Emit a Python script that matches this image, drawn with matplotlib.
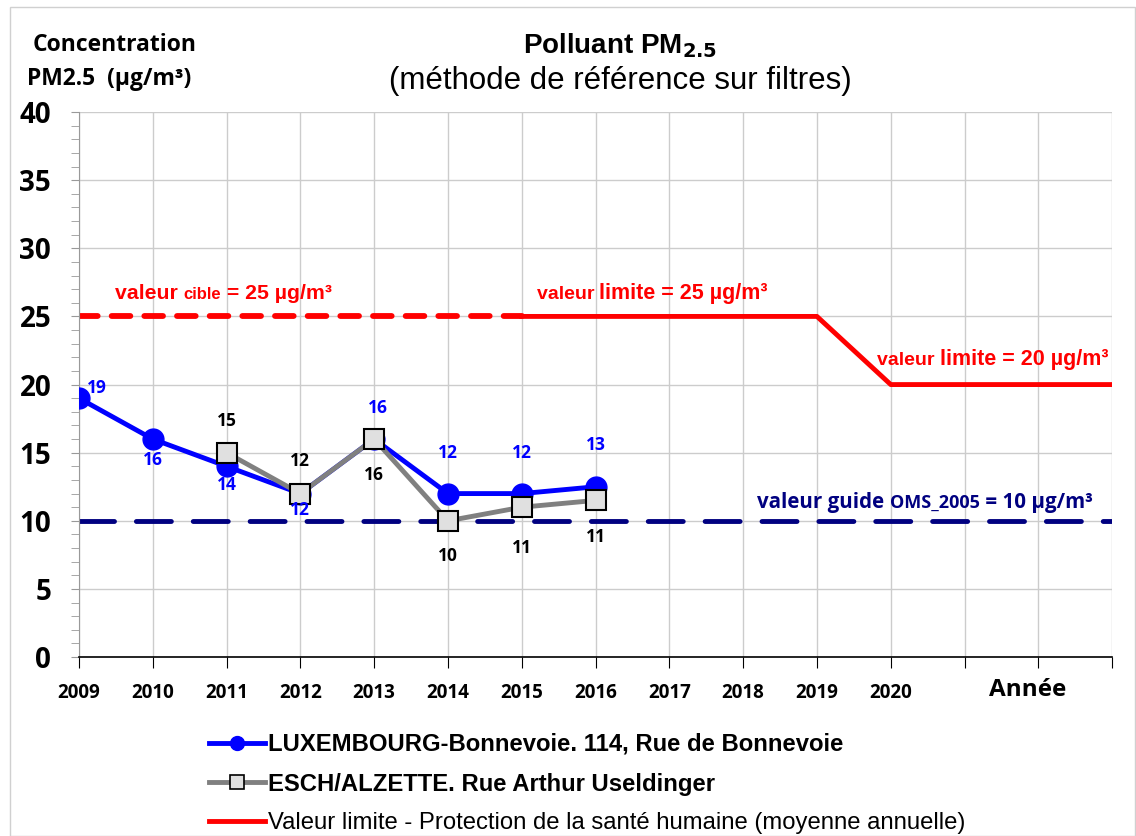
import matplotlib
matplotlib.use("Agg")
import matplotlib.pyplot as plt
from matplotlib.lines import Line2D
from matplotlib.patches import Rectangle
import matplotlib.font_manager as fm

years_lux = [2009, 2010, 2011, 2012, 2013, 2014, 2015, 2016]
lux = [19, 16, 14, 12, 16, 12, 12, 12.5]
lux_labels = ["19", "16", "14", "12", "16", "12", "12", "13"]
years_esch = [2011, 2012, 2013, 2014, 2015, 2016]
esch = [15, 12, 16, 10, 11, 11.5]
esch_labels = ["15", "12", "16", "10", "11", "11"]
target_years = [2009, 2015]
target_vals = [25, 25]
limit_years = [2015, 2019, 2020, 2023]
limit_vals = [25, 25, 20, 20]
guide_years = [2009, 2023]
guide_vals = [10, 10]
xtick_years = list(range(2009, 2021))

names = {f.name for f in fm.fontManager.ttflist}
narrow = ["Liberation Sans Narrow"] if "Liberation Sans Narrow" in names else ["Liberation Sans"]
cal = ["Open Sans", "DejaVu Sans"]

fig = plt.figure(figsize=(11.36, 8.36), dpi=100)
fig.patches.append(Rectangle((0.009, 0.0), 0.99, 0.992, transform=fig.transFigure,
                             fill=False, edgecolor="#d0d0d0", lw=1))
ax = fig.add_axes([0.0695, 0.214, 0.9095, 0.652])
ax.set_xlim(2009, 2023)
ax.set_ylim(0, 40)

ax.set_xticks(range(2009, 2024))
ax.set_xticklabels([""] * 15)
ax.set_yticks(range(0, 41, 5))
ax.set_yticklabels([str(v) for v in range(0, 41, 5)], fontsize=20, fontweight="bold", family=cal)
ax.set_yticks(range(0, 41), minor=True)
ax.tick_params(axis="y", which="both", length=6, color="#999999", pad=14)
ax.tick_params(axis="x", length=8, color="black")
ax.grid(True, which="major", color="#cccccc", lw=1)
for s in ["top", "right"]:
    ax.spines[s].set_visible(False)
ax.spines["left"].set_color("#999999")
ax.spines["bottom"].set_color("black")
ax.spines["bottom"].set_linewidth(1.2)
ax.set_axisbelow(True)

for y in xtick_years:
    ax.text(y, -2.6, str(y), ha="center", va="center", fontsize=13.5, fontweight="bold", family=cal)
ax.text(2021.85, -2.4, "Année", ha="center", va="center", fontsize=17.5, fontweight="bold", family=cal)

ax.plot(target_years, target_vals, color="#ff0000", lw=4.2, ls=(0, (3.2, 2.4)),
        dash_capstyle="round")
ax.plot(limit_years, limit_vals, color="#ff0000", lw=3.5)
ax.plot(guide_years, guide_vals, color="#000080", lw=3.5, ls=(0, (7.2, 4.5)), dash_capstyle="round")

ax.plot(years_lux, lux, color="#0000ff", lw=3.5, marker="o", ms=15, zorder=5)
ax.plot(years_esch, esch, color="#808080", lw=3.5, marker="s", ms=15, mfc="#e0e0e0",
        mec="black", mew=1.5, zorder=6)

lux_off = [(0.24, 0.74), (0, -1.54), (0, -1.38), (0, -1.21), (0.05, 2.28), (0, 2.97), (0, 2.97), (0, 3.06)]
for x, v, lab, (dx, dy) in zip(years_lux, lux, lux_labels, lux_off):
    ax.text(x + dx, v + dy, lab, color="#0000ff", ha="center", va="center", fontsize=12.5,
            fontweight="bold", family=cal, zorder=7)
esch_off = [(0, 2.32), (0, 2.39), (0, -2.64), (0, -2.59), (0, -3.0), (0, -2.69)]
for x, v, lab, (dx, dy) in zip(years_esch, esch, esch_labels, esch_off):
    ax.text(x + dx, v + dy, lab, color="black", ha="center", va="center", fontsize=12.5,
            fontweight="bold", family=cal, zorder=7)


def chain(x, y, pieces, color, family):
    prev = None
    for txt, size in pieces:
        if prev is None:
            t = ax.text(x, y, txt, color=color, fontsize=size, fontweight="bold",
                        family=family, va="baseline", ha="left")
        else:
            t = ax.annotate(txt, xy=(1, y), xycoords=(prev, "data"), color=color,
                            fontsize=size, fontweight="bold", family=family,
                            va="baseline", ha="left")
        prev = t


chain(2009.49, 26.3, [("valeur ", 15.3), ("cible", 12), (" = 25 µg/m³", 15.3)], "#ff0000", narrow)
chain(2015.2, 26.3, [("valeur ", 14), ("limite = 25 µg/m³", 15.5)], "#ff0000", narrow)
chain(2019.81, 21.4, [("valeur ", 14), ("limite = 20 µg/m³", 15.5)], "#ff0000", narrow)
chain(2018.19, 10.95, [("valeur guide ", 14.8), ("OMS_2005", 13), (" = 10 µg/m³", 14.8)], "#000080", cal)

fig.text(0.029, 0.946, "Concentration", fontsize=16.5, fontweight="bold", family=cal, va="center")
fig.text(0.024, 0.905, "PM2.5  (µg/m³)", fontsize=16.5, fontweight="bold", family=cal, va="center")
fig.text(0.546, 0.946, r"Polluant PM$_{\mathbf{2.5}}$", fontsize=20, fontweight="bold",
         family="Liberation Sans", ha="center", va="center")
fig.text(0.546, 0.903, "(méthode de référence sur filtres)", fontsize=22.5,
         family="Liberation Sans", ha="center", va="center")

handles = [
    Line2D([], [], color="#0000ff", lw=3.5, marker="o", ms=10),
    Line2D([], [], color="#808080", lw=3.5, marker="s", ms=10, mfc="#e0e0e0", mec="black", mew=1.2),
    Line2D([], [], color="#ff0000", lw=3.5),
]
labels = ["LUXEMBOURG-Bonnevoie. 114, Rue de Bonnevoie",
          "ESCH/ALZETTE. Rue Arthur Useldinger",
          "Valeur limite - Protection de la santé humaine (moyenne annuelle)"]
leg = fig.legend(handles, labels, loc="upper left", bbox_to_anchor=(0.165, 0.149),
                 frameon=False, handlelength=2.35, handletextpad=0.12, labelspacing=0.7,
                 prop={"family": narrow, "size": 17.2})
for i, t in enumerate(leg.get_texts()):
    if i < 2:
        t.set_fontweight("bold")

fig.savefig("out.png", dpi=100)
